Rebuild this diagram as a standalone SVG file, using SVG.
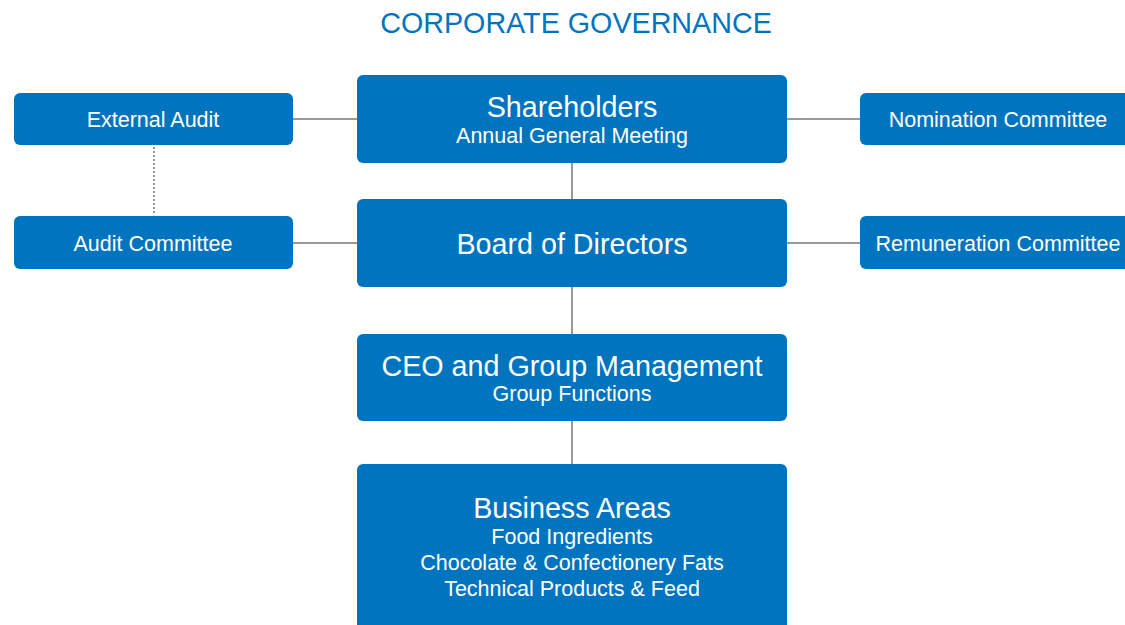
<svg xmlns="http://www.w3.org/2000/svg" width="1125" height="625" viewBox="0 0 1125 625">
<style>
.box{fill:#0074BE;}
.t{font-family:"Liberation Sans",Arial,sans-serif;fill:#fff;text-anchor:middle;}
.big{font-size:28.7px;}
.sm{font-size:21.5px;}
.ln{stroke:#999;stroke-width:2;fill:none;}
.dot{stroke:#999;stroke-width:2;stroke-dasharray:2 2;fill:none;}
</style>
<rect width="1125" height="625" fill="#fff"/>
<text x="576" y="33" font-family="Liberation Sans,Arial,sans-serif" font-size="28.7" fill="#0074BE" text-anchor="middle">CORPORATE GOVERNANCE</text>
<g id="connectors">
<line class="ln" x1="293" y1="119" x2="357" y2="119"/>
<line class="ln" x1="787" y1="119" x2="860" y2="119"/>
<line class="ln" x1="293" y1="243" x2="357" y2="243"/>
<line class="ln" x1="787" y1="243" x2="860" y2="243"/>
<line class="ln" x1="572" y1="163" x2="572" y2="199"/>
<line class="ln" x1="572" y1="287" x2="572" y2="334"/>
<line class="ln" x1="572" y1="421" x2="572" y2="464"/>
<line class="dot" x1="154" y1="147" x2="154" y2="215"/>
</g>
<g id="shareholders">
<rect class="box" x="357" y="75" width="430" height="88" rx="6"/>
<text class="t big" x="572" y="117">Shareholders</text>
<text class="t sm" x="572" y="143">Annual General Meeting</text>
</g>
<g id="board">
<rect class="box" x="357" y="199" width="430" height="88" rx="6"/>
<text class="t big" x="572" y="254">Board of Directors</text>
</g>
<g id="ceo">
<rect class="box" x="357" y="334" width="430" height="87" rx="6"/>
<text class="t big" x="572" y="376">CEO and Group Management</text>
<text class="t sm" x="572" y="401">Group Functions</text>
</g>
<g id="business">
<rect class="box" x="357" y="464" width="430" height="175" rx="6"/>
<text class="t big" x="572" y="518">Business Areas</text>
<text class="t sm" x="572" y="544">Food Ingredients</text>
<text class="t sm" x="572" y="570">Chocolate &amp; Confectionery Fats</text>
<text class="t sm" x="572" y="596">Technical Products &amp; Feed</text>
</g>
<g id="external-audit">
<rect class="box" x="14" y="93" width="279" height="52" rx="6"/>
<text class="t sm" x="153" y="127">External Audit</text>
</g>
<g id="audit-committee">
<rect class="box" x="14" y="216" width="279" height="53" rx="6"/>
<text class="t sm" x="153" y="251">Audit Committee</text>
</g>
<g id="nomination-committee">
<rect class="box" x="860" y="93" width="279" height="52" rx="6"/>
<text class="t sm" x="998" y="127">Nomination Committee</text>
</g>
<g id="remuneration-committee">
<rect class="box" x="860" y="216" width="279" height="53" rx="6"/>
<text class="t sm" x="998" y="251">Remuneration Committee</text>
</g>
</svg>
